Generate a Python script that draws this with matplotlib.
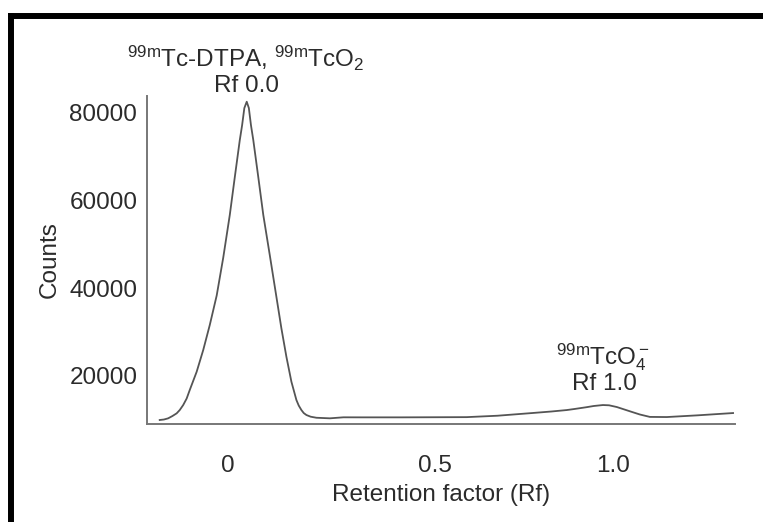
import matplotlib
matplotlib.use("Agg")
import matplotlib.pyplot as plt
from matplotlib.lines import Line2D

plt.rcParams['font.family'] = ['Liberation Sans', 'DejaVu Sans']
plt.rcParams['mathtext.fontset'] = 'custom'
plt.rcParams['mathtext.rm'] = 'Liberation Sans'
plt.rcParams['mathtext.it'] = 'Liberation Sans:italic'
plt.rcParams['mathtext.bf'] = 'Liberation Sans:bold'

# Radio-TLC trace: retention factor vs counts
rf = [-0.177, -0.166, -0.155, -0.144, -0.133, -0.125, -0.116, -0.107, -0.099, -0.081,
      -0.064, -0.047, -0.029, -0.012, 0.005, 0.018, 0.031, 0.037, 0.0428, 0.049,
      0.0545, 0.060, 0.066, 0.079, 0.092, 0.109, 0.126, 0.139, 0.152, 0.165,
      0.178, 0.184, 0.191, 0.197, 0.204, 0.215, 0.230, 0.265, 0.30, 0.35,
      0.45, 0.62, 0.70, 0.79, 0.84, 0.88, 0.90, 0.93, 0.95, 0.974,
      0.99, 1.01, 1.03, 1.05, 1.07, 1.096, 1.14, 1.22, 1.312]
counts = [10000, 10110, 10380, 10900, 11510, 12260, 13400, 14880, 16810, 20970,
          25900, 31580, 38300, 46900, 56600, 65200, 73640, 77000, 80900, 82340,
          80900, 77000, 73640, 65200, 56600, 47400, 38020, 30830, 24380, 18700,
          14540, 13290, 12260, 11580, 11130, 10750, 10510, 10380, 10610, 10600,
          10600, 10650, 10970, 11580, 11930, 12260, 12500, 12890, 13180, 13400,
          13340, 12950, 12380, 11810, 11250, 10700, 10670, 11060, 11580]

y_ticks = [20000, 40000, 60000, 80000]
y_tick_labels = ['20000', '40000', '60000', '80000']
x_tick_pos = [0.0, 0.538, 1.0]
x_tick_labels = ['0', '0.5', '1.0']

W, H = 763, 522
fig = plt.figure(figsize=(W / 100, H / 100), dpi=100)
fig.patch.set_facecolor('white')

def fx(px):
    return px / W

def fy(py):
    return 1 - py / H

ax = fig.add_axes([fx(147), fy(424), fx(735) - fx(147), fy(96) - fy(424)])
ax.plot(rf, counts, color='#555555', lw=1.3, solid_joinstyle='round')

ax.set_xlim(-0.21, 1.317)
ax.set_ylim(9090, 83640)
ax.set_yticks(y_ticks)
ax.set_yticklabels(y_tick_labels)
ax.set_xticks(x_tick_pos)
ax.set_xticklabels(x_tick_labels)

txt_color = '#2b2b2b'
ax.tick_params(axis='both', length=0, labelsize=17.5, colors=txt_color)
ax.tick_params(axis='y', pad=7)
ax.tick_params(axis='x', pad=22)
for s in ['top', 'right']:
    ax.spines[s].set_visible(False)
for s in ['left', 'bottom']:
    ax.spines[s].set_color('#777777')
    ax.spines[s].set_linewidth(1.4)

ax.set_xlabel('Retention factor (Rf)', fontsize=17.5, color=txt_color, labelpad=5)
ax.set_ylabel('Counts', fontsize=17.5, color=txt_color, labelpad=6)

# Peak annotations
fig.text(fx(246), fy(58), r'$^{\rm 99m}$Tc-DTPA, $^{\rm 99m}$TcO$_{\rm 2}$',
         ha='center', va='center', fontsize=17.5, color=txt_color)
fig.text(fx(246), fy(86), 'Rf 0.0', ha='center', va='center', fontsize=17.5, color=txt_color)
fig.text(fx(603), fy(357), r'$^{\rm 99m}$TcO$_{\rm 4}^{\rm -}$',
         ha='center', va='center', fontsize=17.5, color=txt_color)
fig.text(fx(604), fy(384), 'Rf 1.0', ha='center', va='center', fontsize=17.5, color=txt_color)

# Black frame (top and left edges)
fig.add_artist(Line2D([fx(8), 1.0], [fy(15.5), fy(15.5)], color='black', lw=4.3,
                      transform=fig.transFigure, solid_capstyle='butt'))
fig.add_artist(Line2D([fx(11), fx(11)], [fy(13), 0.0], color='black', lw=4.3,
                      transform=fig.transFigure, solid_capstyle='butt'))

fig.savefig('out.png', dpi=100, facecolor='white')
